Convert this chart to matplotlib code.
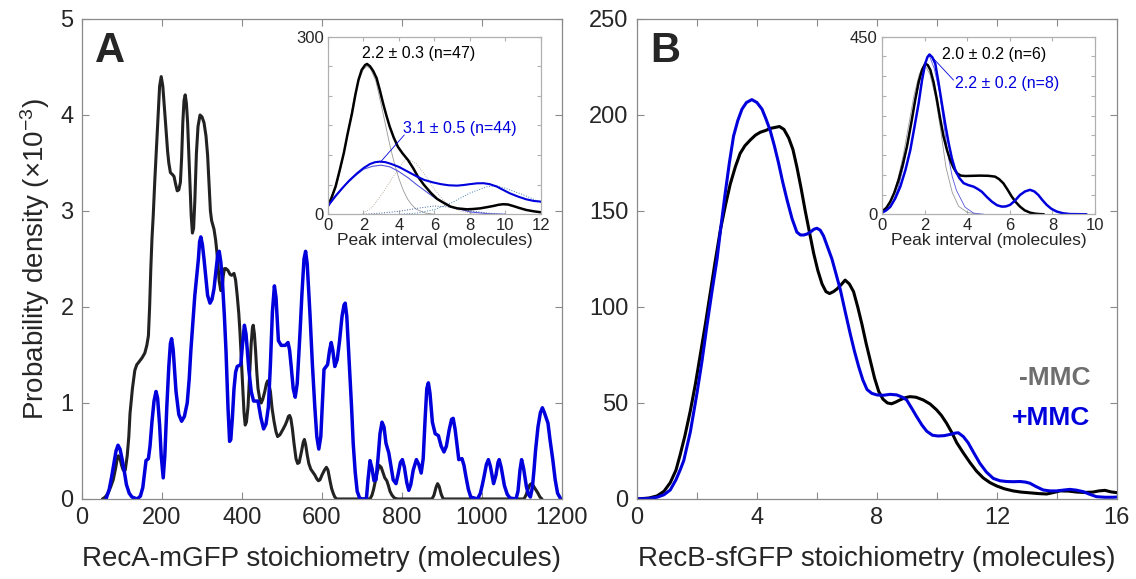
import matplotlib
matplotlib.use("Agg")
import matplotlib.pyplot as plt

# ---------------- data ----------------
# Panel A: RecA-mGFP stoichiometry, probability density (x1e-3), -MMC
recA_minus_x = [51, 58, 65, 72, 78, 84, 88, 91, 95, 99, 103, 108, 113, 117, 120, 126, 132, 137, 141, 150,
                157, 162, 166, 169, 172, 175, 178, 182, 186, 190, 194, 198, 202, 206, 210, 214, 217, 221, 226, 230,
                234, 238, 242, 246, 249, 252, 255, 258, 261, 264, 267, 270, 273, 276, 279, 282, 286, 290, 295, 300,
                305, 310, 314, 318, 321, 324, 330, 334, 337, 340, 343, 347, 350, 353, 356, 360, 365, 370, 374, 380,
                384, 388, 392, 395, 399, 402, 405, 408, 411, 415, 419, 423, 426, 428, 431, 434, 437, 440, 444, 448,
                452, 457, 461, 464, 467, 471, 475, 480, 485, 489, 495, 503, 508, 512, 516, 519, 522, 526, 530, 535,
                539, 543, 546, 549, 553, 556, 559, 563, 567, 572, 577, 582, 587, 591, 595, 600, 606, 611, 615, 620,
                624, 628, 632, 637, 720, 725, 729, 734, 738, 743, 748, 752, 757, 762, 766, 770, 775, 781, 789, 875,
                880, 885, 889, 893, 898, 903, 1105, 1110, 1115, 1120, 1124, 1128, 1134, 1140, 1145, 1150]
recA_minus_y = [0, 0.02, 0.06, 0.13, 0.20, 0.32, 0.42, 0.45, 0.42, 0.35, 0.30, 0.30, 0.45, 0.65, 0.89, 1.15, 1.34, 1.40, 1.42, 1.47,
                1.52, 1.60, 1.70, 2.00, 2.40, 2.72, 2.95, 3.32, 3.65, 4.00, 4.30, 4.40, 4.30, 4.08, 3.85, 3.62, 3.50, 3.40, 3.38, 3.36,
                3.28, 3.21, 3.22, 3.30, 3.55, 3.92, 4.15, 4.21, 4.12, 3.92, 3.60, 3.28, 2.95, 2.77, 2.82, 3.10, 3.60, 3.88, 4.00, 3.98,
                3.92, 3.78, 3.58, 3.25, 3.00, 2.90, 2.81, 2.70, 2.58, 2.42, 2.27, 2.17, 2.18, 2.32, 2.40, 2.40, 2.38, 2.34, 2.33, 2.35,
                2.28, 2.12, 1.93, 1.73, 1.40, 1.15, 0.90, 0.77, 0.80, 0.96, 1.30, 1.62, 1.78, 1.81, 1.72, 1.54, 1.32, 1.15, 1.05, 1.00,
                1.04, 1.12, 1.20, 1.23, 1.20, 1.12, 0.95, 0.81, 0.70, 0.65, 0.67, 0.73, 0.77, 0.81, 0.86, 0.87, 0.84, 0.73, 0.58, 0.42,
                0.37, 0.38, 0.44, 0.50, 0.59, 0.62, 0.57, 0.46, 0.37, 0.31, 0.28, 0.25, 0.21, 0.19, 0.20, 0.25, 0.30, 0.33, 0.30, 0.19,
                0.11, 0.06, 0.02, 0, 0, 0.04, 0.10, 0.20, 0.28, 0.35, 0.33, 0.28, 0.22, 0.19, 0.14, 0.08, 0.04, 0.01, 0, 0,
                0.04, 0.12, 0.16, 0.13, 0.05, 0, 0, 0.04, 0.10, 0.15, 0.16, 0.14, 0.10, 0.06, 0.02, 0]
# +MMC
recA_plus_x = [60, 68, 74, 80, 85, 90, 95, 100, 106, 111, 118, 125, 138, 146, 152, 157, 160, 166, 170, 175,
               180, 185, 189, 194, 198, 203, 207, 212, 217, 221, 224, 228, 235, 242, 249, 256, 263, 268, 272, 282,
               291, 294, 297, 301, 305, 314, 320, 325, 330, 336, 340, 343, 347, 351, 356, 360, 365, 369, 372, 376,
               380, 384, 388, 397, 401, 406, 410, 417, 423, 429, 440, 447, 454, 460, 466, 471, 476, 481, 485, 491,
               498, 508, 515, 519, 523, 528, 533, 538, 545, 550, 555, 559, 563, 570, 576, 582, 587, 592, 597, 601,
               605, 614, 619, 623, 627, 632, 638, 644, 650, 655, 658, 662, 669, 674, 678, 683, 688, 694, 700, 711,
               715, 720, 725, 730, 735, 740, 745, 750, 755, 760, 767, 772, 778, 785, 790, 796, 801, 806, 812, 817,
               822, 828, 836, 842, 848, 853, 858, 862, 866, 870, 876, 883, 891, 898, 905, 911, 918, 924, 928, 933,
               938, 942, 950, 955, 960, 966, 972, 989, 996, 1001, 1005, 1011, 1016, 1021, 1029, 1035, 1040, 1043, 1048, 1056,
               1063, 1070, 1085, 1090, 1095, 1099, 1104, 1111, 1116, 1121, 1126, 1130, 1134, 1140, 1146, 1151, 1156, 1165, 1170, 1177,
               1183, 1189, 1197]
recA_plus_y = [0, 0.10, 0.23, 0.38, 0.50, 0.56, 0.52, 0.42, 0.28, 0.15, 0.06, 0.02, 0, 0.03, 0.12, 0.30, 0.40, 0.42, 0.55, 0.81,
               1.02, 1.12, 1.05, 0.77, 0.45, 0.22, 0.45, 0.96, 1.38, 1.62, 1.67, 1.55, 1.12, 0.88, 0.81, 0.86, 1.00, 1.25, 1.54, 2.12,
               2.50, 2.68, 2.73, 2.65, 2.50, 2.12, 2.04, 2.08, 2.19, 2.42, 2.56, 2.58, 2.47, 2.27, 1.90, 1.54, 0.95, 0.60, 0.62, 0.85,
               1.15, 1.32, 1.38, 1.40, 1.60, 1.81, 1.72, 1.35, 1.12, 1.02, 1.02, 0.85, 0.73, 0.78, 0.96, 1.40, 1.95, 2.22, 2.10, 1.65,
               1.60, 1.60, 1.63, 1.55, 1.38, 1.15, 1.06, 1.20, 1.73, 2.15, 2.50, 2.58, 2.45, 1.92, 1.40, 0.96, 0.65, 0.52, 0.65, 1.00,
               1.35, 1.40, 1.55, 1.63, 1.55, 1.38, 1.45, 1.65, 1.90, 2.02, 2.04, 1.90, 1.35, 0.95, 0.58, 0.28, 0.08, 0.01, 0, 0,
               0.20, 0.40, 0.32, 0.19, 0.20, 0.42, 0.68, 0.80, 0.75, 0.58, 0.48, 0.35, 0.20, 0.16, 0.25, 0.38, 0.41, 0.33, 0.17, 0.09,
               0.15, 0.30, 0.41, 0.36, 0.27, 0.42, 0.85, 1.15, 1.21, 1.10, 0.80, 0.68, 0.66, 0.55, 0.49, 0.55, 0.72, 0.83, 0.84, 0.72,
               0.55, 0.41, 0.42, 0.35, 0.23, 0.10, 0.02, 0, 0.06, 0.15, 0.23, 0.36, 0.41, 0.34, 0.16, 0.25, 0.38, 0.41, 0.33, 0.14,
               0.05, 0.01, 0, 0.08, 0.30, 0.41, 0.32, 0.13, 0.05, 0.02, 0.12, 0.30, 0.51, 0.75, 0.90, 0.95, 0.90, 0.79, 0.62, 0.41,
               0.20, 0.06, 0]

# Panel A inset: peak interval density
insA_minus_x = [0, 0.2, 0.43, 0.65, 0.89, 1.1, 1.35, 1.55, 1.72, 1.9, 2.09, 2.2, 2.37, 2.55, 2.74, 2.92, 3.11, 3.3,
                3.48, 3.7, 3.94, 4.2, 4.5, 4.8, 5.06, 5.4, 5.8, 6.15, 6.54, 6.9, 7.28, 7.83, 8.2, 8.57, 8.95, 9.31,
                9.6, 9.87, 10.15, 10.43, 10.8, 11.17, 11.6, 12]
insA_minus_y = [14, 28, 47, 73, 103, 135, 170, 203, 227, 244, 252, 254, 250, 242, 230, 210, 187, 166,
                148, 130, 114, 103, 92, 78, 64, 50, 36, 26, 19, 13, 10, 8.4, 9, 10, 12, 14,
                16, 17, 16.5, 14, 10.5, 7.3, 5, 3.4]
insA_plus_x = [0, 0.4, 0.8, 1.2, 1.63, 2.0, 2.37, 2.65, 2.93, 3.25, 3.57, 4.0, 4.5, 5.0, 5.43, 5.9, 6.35, 6.8,
               7.28, 7.65, 8.02, 8.4, 8.76, 9.1, 9.5, 9.85, 10.24, 10.7, 11.17, 11.6, 12]
insA_plus_y = [14, 30, 44, 57, 69, 78, 85, 88, 89, 88, 85, 80, 72, 64, 58, 54, 51, 49,
               48.4, 49.5, 51, 52.3, 52.5, 51, 47, 41.5, 35.5, 30, 25.3, 22.5, 21.4]
insA_fit1_x = [0, 0.25, 0.5, 0.75, 1, 1.25, 1.5, 1.75, 2.0, 2.2, 2.4, 2.7, 3.0, 3.25, 3.5, 3.75, 4.0, 4.25,
               4.5, 4.75, 5, 5.5, 6]
insA_fit1_y = [12, 28, 50, 82, 120, 160, 200, 228, 245, 250, 246, 225, 185, 150, 115, 85, 60, 40,
               25, 15, 8, 2, 0]
insA_fit2_x = [1.9, 2.5, 3.2, 3.6, 3.94, 4.4, 5.0, 5.5, 6.0, 6.5, 7.0, 7.5, 8.0, 8.5]
insA_fit2_y = [0, 12, 41, 60, 75, 95, 85, 65, 42, 24, 12, 5, 2, 0]
insA_fit3_x = [0, 0.5, 1, 1.5, 2, 2.5, 3, 3.5, 4, 4.5, 5, 5.5, 6, 7, 8, 9, 10]
insA_fit3_y = [14, 32, 50, 64, 76, 81, 83, 80, 72, 62, 50, 39, 28, 12, 4, 1, 0]
insA_fit4_x = [2, 3, 4, 5, 6, 7, 8, 9, 10]
insA_fit4_y = [0, 2, 5, 10, 14, 12, 6, 2, 0]
insA_fit5_x = [4, 5, 6, 7, 8, 9, 9.5, 10, 11, 12]
insA_fit5_y = [0, 2, 8, 20, 36, 47, 48, 44, 33, 20]

# Panel B: RecB-sfGFP stoichiometry, -MMC
recB_minus_x = [0, 0.4, 0.67, 0.9, 1.11, 1.3, 1.44, 1.6, 1.78, 1.95, 2.11, 2.28, 2.44, 2.6, 2.78, 2.95, 3.11, 3.28,
                3.44, 3.6, 3.78, 3.95, 4.11, 4.3, 4.44, 4.6, 4.75, 4.9, 5.06, 5.2, 5.33, 5.47, 5.61, 5.75, 5.89, 6.03,
                6.17, 6.3, 6.42, 6.55, 6.67, 6.8, 6.94, 7.08, 7.22, 7.36, 7.5, 7.64, 7.78, 7.92, 8.06, 8.2, 8.35, 8.49,
                8.63, 8.77, 8.95, 9.1, 9.3, 9.54, 9.77, 9.99, 10.15, 10.32, 10.5, 10.66, 10.88, 11.1, 11.32, 11.54,
                11.77, 11.99, 12.25, 12.54, 12.8, 13.1, 13.4, 13.66, 13.9, 14.1, 14.4, 14.66, 14.9, 15.2, 15.4, 15.6,
                15.8, 16]
recB_minus_y = [0, 0.5, 1.6, 4, 8.5, 15, 23, 33, 46, 60, 75, 91, 107, 123, 140, 153, 164, 173,
                180, 184, 187, 189.5, 191, 192, 193, 193.5, 194, 192.5, 188, 182, 173, 162, 150, 139, 128, 119,
                112, 108, 107, 108, 109.4, 111.5, 114, 112, 108, 100, 91, 81, 72, 63, 56, 52, 50, 49.6,
                50.5, 51.6, 52.8, 53.3, 53, 51.6, 49.5, 46.4, 43.5, 39.5, 34.5, 29.3, 24, 19, 14.5, 11,
                8.5, 6.8, 5.3, 4.2, 3.6, 3.2, 2.8, 2.6, 3.4, 4.2, 4.1, 3.6, 3.4, 3.6, 4.2, 4.5,
                3.7, 3.3]
# +MMC
recB_plus_x = [0, 0.4, 0.67, 0.9, 1.11, 1.3, 1.45, 1.56, 1.78, 2.0, 2.17, 2.33, 2.5, 2.67, 2.8, 2.94, 3.08, 3.22,
               3.36, 3.5, 3.65, 3.83, 4.0, 4.17, 4.3, 4.44, 4.58, 4.72, 4.86, 5.0, 5.17, 5.33, 5.45, 5.56, 5.67, 5.78,
               5.9, 6.0, 6.11, 6.22, 6.36, 6.5, 6.64, 6.78, 6.95, 7.11, 7.25, 7.39, 7.53, 7.67, 7.83, 8.0, 8.2, 8.44,
               8.66, 8.85, 8.99, 9.15, 9.32, 9.5, 9.66, 9.85, 10.04, 10.25, 10.43, 10.6, 10.71, 10.88, 11.04, 11.23,
               11.43, 11.65, 11.88, 12.1, 12.32, 12.55, 12.77, 12.95, 13.1, 13.3, 13.54, 13.77, 13.99, 14.2, 14.43,
               14.65, 14.88, 15.1, 15.32, 15.6, 15.88, 16]
recB_plus_y = [0, 0.3, 0.9, 2.2, 4.7, 10, 15.5, 20, 35, 55, 72, 90, 108, 125, 142, 159, 175, 189,
               197, 203, 206.5, 208, 206.5, 203, 198, 192, 184, 175, 165, 156, 146, 139, 137.5, 137.5, 138, 139,
               140.5, 141, 140, 137, 131, 125, 117, 109, 97, 86, 77, 69, 62, 57, 55, 54.2, 54, 54.5,
               54.2, 53, 51.6, 47.5, 43, 38.5, 35.3, 33.2, 32.8, 33, 33.6, 34.3, 34.5, 32.5, 29.3, 24,
               18.6, 14, 10.7, 9.5, 9.1, 9, 9.1, 8.8, 8.2, 6.5, 4.7, 4.2, 4.2, 4.6, 5,
               4.6, 3.8, 2.4, 1.2, 0.9, 0.9, 1]

# Panel B inset
insB_minus_x = [0, 0.2, 0.39, 0.58, 0.78, 0.98, 1.17, 1.37, 1.56, 1.72, 1.88, 2.03, 2.15, 2.27, 2.42, 2.58, 2.73,
                2.89, 3.05, 3.2, 3.36, 3.52, 3.7, 3.91, 4.25, 4.61, 5.0, 5.31, 5.5, 5.7, 5.9, 6.09, 6.28, 6.48,
                6.7, 6.95, 7.2, 7.42, 7.6]
insB_minus_y = [7, 16, 32, 55, 87, 127, 171, 230, 290, 335, 366, 382, 378, 366, 335, 290, 243,
                197, 163, 138, 118, 104, 98, 97, 97.5, 98, 97.5, 95.4, 89, 78.5, 62, 45, 31, 19.4,
                10, 4.2, 1.5, 0.5, 0]
insB_plus_x = [0, 0.2, 0.39, 0.62, 0.86, 1.1, 1.33, 1.52, 1.72, 1.88, 2.03, 2.13, 2.23, 2.36, 2.5, 2.65, 2.81,
               2.97, 3.13, 3.28, 3.44, 3.63, 3.83, 4.05, 4.3, 4.5, 4.69, 4.92, 5.16, 5.4, 5.63, 5.82, 6.02, 6.25,
               6.48, 6.72, 6.95, 7.15, 7.34, 7.53, 7.73, 7.95, 8.2, 8.5, 8.83, 9.6]
insB_plus_y = [4, 10, 19, 40, 70, 112, 163, 220, 281, 340, 382, 398, 405, 398, 382, 335, 281,
               228, 180, 142, 112, 92, 79, 74, 70, 64, 57, 44, 32, 23, 19.4, 20, 24, 35,
               49, 58, 62, 58, 49, 36, 24, 14, 7, 2.5, 0.5, 0]
insB_fit1_x = [0, 0.25, 0.5, 0.75, 1, 1.25, 1.5, 1.75, 2, 2.25, 2.5, 2.75, 3, 3.3, 3.6, 4, 4.5]
insB_fit1_y = [6, 20, 45, 90, 150, 225, 300, 355, 380, 355, 300, 215, 120, 55, 20, 5, 0]
insB_fit2_x = [0, 0.25, 0.5, 0.75, 1, 1.25, 1.5, 1.85, 2.2, 2.45, 2.7, 2.9, 3.1, 3.3, 3.5, 3.9, 4.3, 4.8]
insB_fit2_y = [4, 12, 30, 65, 120, 190, 270, 360, 405, 370, 310, 230, 150, 95, 60, 18, 3, 0]

BLUE = '#0000dd'
DARK = '#262626'
plt.rcParams['font.family'] = ['Liberation Sans', 'DejaVu Sans']
plt.rcParams['mathtext.fontset'] = 'custom'
plt.rcParams['mathtext.rm'] = 'Liberation Sans'
plt.rcParams['mathtext.it'] = 'Liberation Sans:italic'
plt.rcParams['lines.solid_joinstyle'] = 'round'
plt.rcParams['lines.solid_capstyle'] = 'round'


def style_axes(ax, fs, length, spine_col):
    ax.tick_params(direction='in', top=True, right=True, length=length, width=0.8,
                   labelsize=fs, pad=6)
    ax.tick_params(colors=spine_col, which='both', labelcolor=DARK)
    for s in ax.spines.values():
        s.set_color(spine_col)
        s.set_linewidth(0.9)


fig = plt.figure(figsize=(11.36, 5.79), dpi=100)

# ---------------- panel A ----------------
axA = fig.add_axes([0.0722, 0.1382, 0.4225, 0.829])
axA.plot(recA_minus_x, recA_minus_y, color='#222222', lw=2.2)
axA.plot(recA_plus_x, recA_plus_y, color=BLUE, lw=2.5)
axA.set_xlim(0, 1200)
axA.set_ylim(0, 5)
axA.set_xticks(range(0, 1201, 200))
axA.set_yticks(range(0, 6))
style_axes(axA, 17, 5, '#8a8a8a')
axA.set_xlabel('RecA-mGFP stoichiometry (molecules)', fontsize=20, color=DARK, labelpad=12)
axA.set_ylabel(r'Probability density ($\times$10$^{-3}$)', fontsize=20, color=DARK, labelpad=6)
axA.text(0.027, 0.975, 'A', transform=axA.transAxes, fontsize=30, fontweight='bold',
         va='top', ha='left', color=DARK)

# inset A
inA = fig.add_axes([0.2887, 0.6299, 0.1875, 0.3067])
inA.plot(insA_fit1_x, insA_fit1_y, color='#999999', lw=0.6)
inA.plot(insA_fit2_x, insA_fit2_y, color='#b0a090', lw=0.6, ls=':')
inA.plot(insA_fit3_x, insA_fit3_y, color='#5555dd', lw=0.8)
inA.plot(insA_fit4_x, insA_fit4_y, color='#4060a0', lw=0.7, ls=':')
inA.plot(insA_fit5_x, insA_fit5_y, color='#4080b0', lw=0.7, ls=':')
inA.plot(insA_minus_x, insA_minus_y, color='black', lw=1.8)
inA.plot(insA_plus_x, insA_plus_y, color=BLUE, lw=1.5)
inA.set_xlim(0, 12)
inA.set_ylim(0, 300)
inA.set_xticks(range(0, 13, 2))
inA.set_yticks(range(0, 301, 50))
inA.set_yticklabels(['0', '', '', '', '', '', '300'])
style_axes(inA, 12, 3, '#b0b0b0')
inA.tick_params(pad=3)
inA.set_xlabel('Peak interval (molecules)', fontsize=12.5, color=DARK, labelpad=0)
inA.text(1.9, 272, '2.2 ± 0.3 (n=47)', fontsize=11.5, color='black', va='center')
inA.text(4.22, 145, '3.1 ± 0.5 (n=44)', fontsize=11.5, color=BLUE, va='center')
inA.plot([4.3, 2.95], [134, 88], color=BLUE, lw=0.6)

# ---------------- panel B ----------------
axB = fig.add_axes([0.5607, 0.1382, 0.4225, 0.829])
axB.plot(recB_minus_x, recB_minus_y, color='black', lw=2.2)
axB.plot(recB_plus_x, recB_plus_y, color=BLUE, lw=2.2)
axB.set_xlim(0, 16)
axB.set_ylim(0, 250)
axB.set_xticks(range(0, 17, 2))
axB.set_xticklabels([str(v) if v % 4 == 0 else '' for v in range(0, 17, 2)])
axB.set_yticks(range(0, 251, 50))
style_axes(axB, 17, 5, '#8a8a8a')
axB.set_xlabel('RecB-sfGFP stoichiometry (molecules)', fontsize=20, color=DARK, labelpad=12)
axB.text(0.027, 0.975, 'B', transform=axB.transAxes, fontsize=30, fontweight='bold',
         va='top', ha='left', color=DARK)
axB.text(0.945, 0.252, '-MMC', transform=axB.transAxes, fontsize=19, fontweight='bold',
         ha='right', va='center', color='#6e6e6e')
axB.text(0.945, 0.168, '+MMC', transform=axB.transAxes, fontsize=19, fontweight='bold',
         ha='right', va='center', color=BLUE)

# inset B
inB = fig.add_axes([0.7764, 0.6299, 0.1875, 0.3067])
inB.plot(insB_fit1_x, insB_fit1_y, color='#999999', lw=0.6)
inB.plot(insB_fit2_x, insB_fit2_y, color='#5555dd', lw=0.6)
inB.plot(insB_minus_x, insB_minus_y, color='black', lw=1.8)
inB.plot(insB_plus_x, insB_plus_y, color=BLUE, lw=1.8)
inB.set_xlim(0, 10)
inB.set_ylim(0, 450)
inB.set_xticks(range(0, 11, 2))
inB.set_yticks(range(0, 451, 50))
inB.set_yticklabels(['0'] + [''] * 8 + ['450'])
style_axes(inB, 12, 3, '#b0b0b0')
inB.tick_params(pad=3)
inB.set_xlabel('Peak interval (molecules)', fontsize=12.5, color=DARK, labelpad=0)
inB.text(2.8, 404, '2.0 ± 0.2 (n=6)', fontsize=11.5, color='black', va='center')
inB.text(3.44, 332, '2.2 ± 0.2 (n=8)', fontsize=11.5, color=BLUE, va='center')
inB.plot([2.34, 3.36], [399, 340], color=BLUE, lw=0.6)

fig.savefig('out.png', dpi=100)
